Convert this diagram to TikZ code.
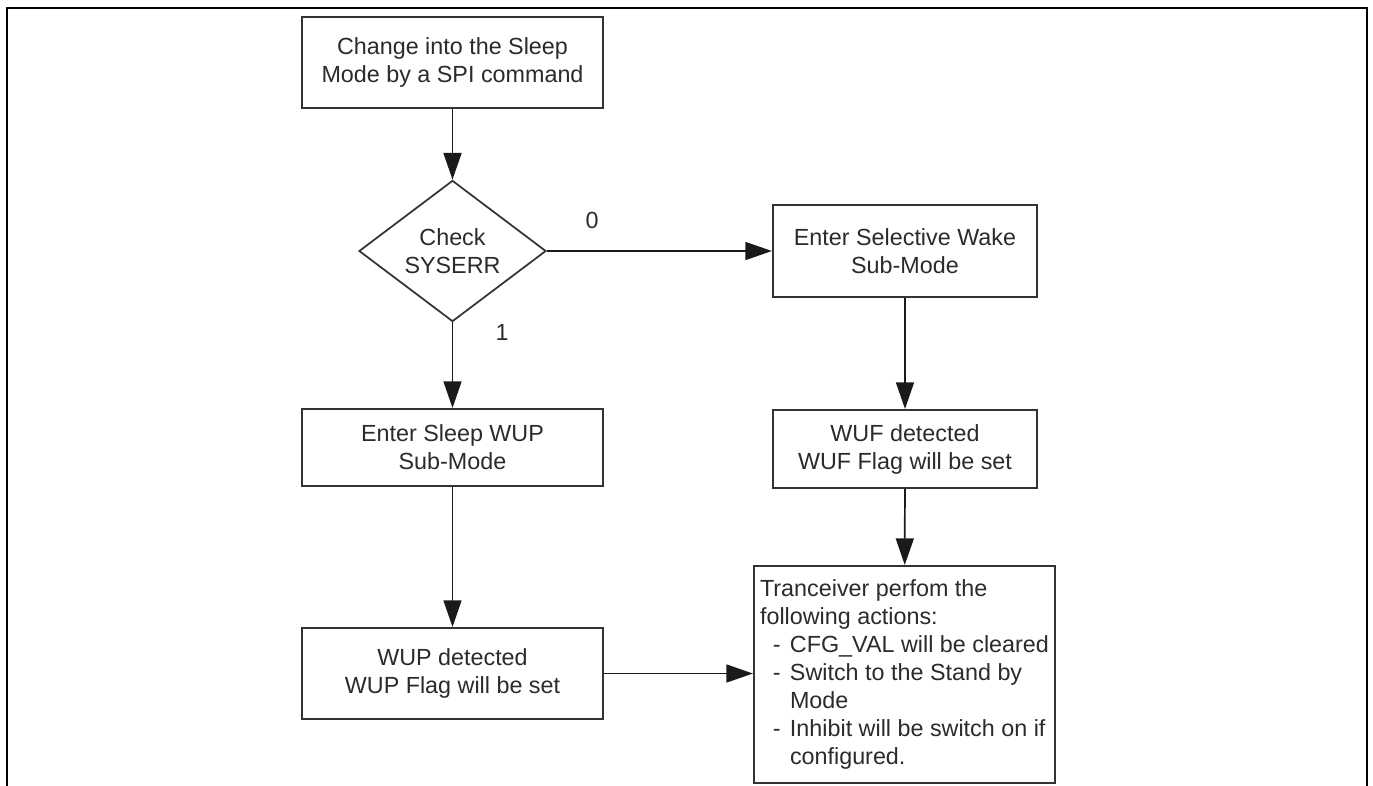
\documentclass[tikz,border=0pt]{standalone}
\usepackage{fontspec}
\setmainfont{Liberation Sans}
\usetikzlibrary{shapes.geometric,arrows.meta}
\definecolor{boxcol}{HTML}{333333}
\definecolor{linecol}{HTML}{1A1A1A}
\definecolor{txtcol}{HTML}{2B2B2B}
\newcommand\dashit{\hspace*{0.55em}-\hspace*{0.4em}}
\newcommand\contit{\hspace*{1.283em}}
\begin{document}
\begin{tikzpicture}[x=0.75pt,y=-0.75pt,
  box/.style={draw=boxcol, line width=1.6pt, fill=white, text=txtcol, align=center, inner sep=0pt, font=\fontsize{17.5}{21}\selectfont},
  flow/.style={draw=linecol, line width=1.3pt, -{Triangle[length=20pt,width=13.5pt]}},
  lbl/.style={text=txtcol, font=\fontsize{17.5}{21}\selectfont, inner sep=0pt}]
\useasboundingbox (0,0) rectangle (1373,785);
\draw[line width=2pt] (7,800) -- (7,8) -- (1367,8) -- (1367,800);
\node[box, minimum width=225.75pt, minimum height=68.25pt] (start) at (452.5,62.5) {Change into the Sleep\\Mode by a SPI command};
\node[box, shape=diamond, line width=1.3pt, minimum width=140.25pt, minimum height=99.75pt] (check) at (452.5,251) {Check\\SYSERR};
\node[box, minimum width=225.75pt, minimum height=57.75pt] (sleep) at (452.5,447.5) {Enter Sleep WUP\\Sub-Mode};
\node[box, minimum width=225.75pt, minimum height=68.25pt] (wup) at (452.5,673.5) {WUP detected\\WUP Flag will be set};
\node[box, minimum width=198pt, minimum height=69pt] (sw) at (905,251) {Enter Selective Wake\\Sub-Mode};
\node[box, minimum width=198pt, minimum height=58.5pt] (wuf) at (905,449) {WUF detected\\WUF Flag will be set};
\node[box, align=left, minimum width=225.75pt, minimum height=162.75pt] (trans) at (904.5,674.5) {Tranceiver perfom the\\following actions:\\\dashit CFG\_VAL will be cleared\\\dashit Switch to the Stand by\\\contit Mode\\\dashit Inhibit will be switch on if\\\contit configured.};
\node[lbl] (l0) at (592,220) {0};
\node[lbl] (l1) at (502,332) {1};
\draw[flow] (start) -- (check);
\draw[flow] (check) -- (sleep);
\draw[flow] (sleep) -- (wup);
\draw[flow] (check) -- (sw);
\draw[flow] (sw) -- (wuf);
\draw[flow] (wuf) -- (trans);
\draw[flow] (wup.east) -- (wup.east -| trans.west);
\end{tikzpicture}
\end{document}
